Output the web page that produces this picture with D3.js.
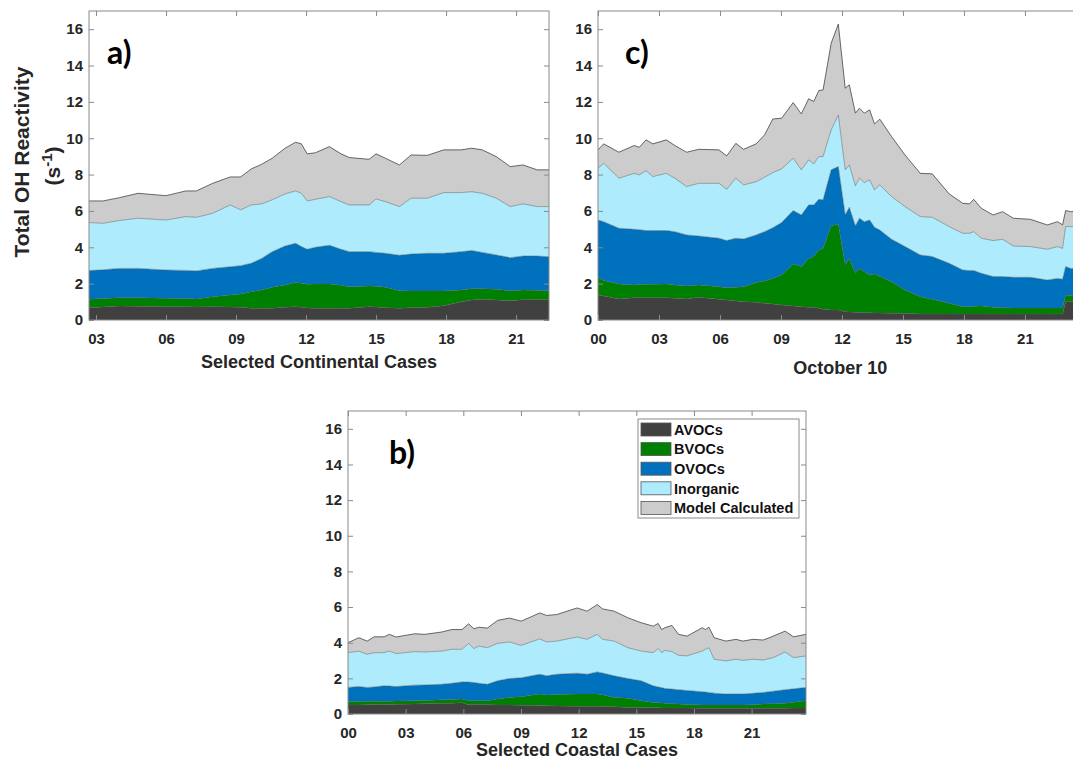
<!DOCTYPE html>
<html>
<head>
<meta charset="utf-8">
<script src="https://cdn.jsdelivr.net/npm/d3@7"></script>
<style>
  body { margin: 0; background: #fff; }
  text { font-family: "Liberation Sans", Arial, sans-serif; }
</style>
</head>
<body>
<script>
const keys = ["AVOCs", "BVOCs", "OVOCs", "Inorganic", "Model Calculated"];
const colors = ["#404040", "#008000", "#0072BD", "#AEEBFC", "#CCCCCC"];
const yTicks = [0, 2, 4, 6, 8, 10, 12, 14, 16];

// a) selected continental cases
const hoursA = [2.7, 3.3, 4.0, 4.8, 6.0, 6.85, 7.3, 8.0, 8.75, 9.2, 9.65, 10.1, 10.55, 11.1, 11.55, 11.8, 12.05, 12.4, 13.0, 13.5, 13.85, 14.7, 15.0, 15.4, 16.0, 16.5, 17.2, 17.9, 18.65, 19.1, 19.55, 20.15, 20.75, 21.3, 21.9, 22.41];
const avocA = [.68, .72, .77, .76, .73, .73, .72, .73, .72, .70, .64, .64, .65, .70, .73, .70, .66, .64, .65, .64, .65, .73, .72, .68, .64, .67, .70, .79, 1.00, 1.10, 1.14, 1.10, 1.06, 1.12, 1.12, 1.12];
const bvocA = [.46, .46, .46, .46, .46, .45, .44, .55, .66, .73, .92, 1.01, 1.15, 1.23, 1.33, 1.32, 1.30, 1.34, 1.33, 1.27, 1.18, 1.14, 1.13, 1.12, .97, .93, .90, .81, .65, .62, .58, .59, .55, .53, .51, .49];
const ovocA = [1.58, 1.58, 1.61, 1.62, 1.56, 1.55, 1.54, 1.56, 1.55, 1.56, 1.56, 1.74, 1.96, 2.14, 2.16, 2.02, 1.93, 2.02, 2.13, 1.98, 1.93, 1.89, 1.87, 1.87, 1.95, 2.03, 2.07, 2.07, 2.11, 2.10, 2.00, 1.89, 1.82, 1.87, 1.89, 1.87];
const inorgA = [2.64, 2.56, 2.63, 2.76, 2.75, 2.96, 2.95, 3.03, 3.40, 3.07, 3.21, 3.00, 2.85, 2.87, 2.88, 2.93, 2.66, 2.64, 2.68, 2.62, 2.57, 2.57, 2.94, 2.84, 2.68, 3.07, 3.03, 3.34, 3.25, 3.24, 3.25, 3.12, 2.81, 2.87, 2.72, 2.76];
const modelA = [1.19, 1.23, 1.26, 1.37, 1.34, 1.41, 1.45, 1.65, 1.54, 1.81, 1.98, 2.18, 2.29, 2.51, 2.68, 2.72, 2.59, 2.56, 2.75, 2.63, 2.61, 2.51, 2.48, 2.39, 2.29, 2.38, 2.36, 2.35, 2.35, 2.39, 2.39, 2.29, 2.20, 2.14, 2.02, 2.02];

// c) October 10
const hoursC = [0, 0.28, 1.03, 1.78, 2.03, 2.36, 2.7, 3.36, 3.78, 4.36, 4.95, 5.95, 6.33, 6.78, 7.16, 7.78, 8.19, 8.6, 9.03, 9.6, 10.0, 10.36, 10.61, 10.86, 11.07, 11.47, 11.82, 12.16, 12.36, 12.66, 12.86, 13.1, 13.36, 13.6, 13.86, 14.44, 15.1, 15.85, 16.44, 17.27, 17.94, 18.27, 18.48, 18.85, 19.43, 19.9, 20.43, 21.27, 22.1, 22.6, 22.85, 23.0, 23.25, 23.83];
const avocC = [1.38, 1.32, 1.16, 1.23, 1.23, 1.23, 1.23, 1.23, 1.19, 1.16, 1.25, 1.14, 1.10, 1.05, 1.01, 0.97, 0.92, 0.88, 0.83, 0.77, 0.73, 0.70, 0.70, 0.64, 0.59, 0.55, 0.55, 0.46, 0.44, 0.42, 0.41, 0.40, 0.40, 0.39, 0.39, 0.37, 0.37, 0.33, 0.33, 0.33, 0.33, 0.33, 0.33, 0.33, 0.33, 0.33, 0.33, 0.33, 0.33, 0.33, 0.33, 1.01, 1.01, 1.00];
const bvocC = [0.97, 0.85, 0.82, 0.70, 0.72, 0.73, 0.74, 0.75, 0.74, 0.71, 0.68, 0.69, 0.68, 0.75, 0.82, 1.09, 1.23, 1.40, 1.65, 2.31, 2.21, 2.69, 2.79, 3.21, 3.35, 4.64, 4.72, 2.57, 2.95, 2.15, 2.43, 2.26, 2.08, 2.14, 2.00, 1.74, 1.28, 0.95, 0.81, 0.59, 0.40, 0.40, 0.42, 0.44, 0.37, 0.35, 0.33, 0.33, 0.33, 0.33, 0.33, 0.37, 0.33, 0.34];
const ovocC = [3.15, 3.24, 3.07, 3.06, 3.02, 2.96, 2.95, 2.94, 2.93, 2.81, 2.69, 2.67, 2.59, 2.70, 2.63, 2.62, 2.71, 2.80, 2.88, 2.94, 2.84, 2.94, 2.84, 2.79, 2.67, 3.07, 3.17, 2.75, 2.81, 2.60, 2.76, 2.75, 3.02, 2.57, 2.56, 2.33, 2.39, 2.30, 2.35, 2.20, 2.02, 1.99, 1.97, 1.80, 1.69, 1.71, 1.69, 1.69, 1.54, 1.63, 1.58, 1.56, 1.50, 1.46];
const inorgC = [2.85, 3.21, 2.75, 3.08, 3.01, 3.30, 2.97, 3.15, 2.94, 2.66, 2.90, 3.02, 2.82, 3.30, 2.97, 2.93, 2.99, 3.03, 2.95, 2.88, 2.48, 2.48, 2.26, 2.35, 2.38, 2.20, 2.84, 2.48, 2.33, 2.21, 2.20, 2.15, 2.21, 2.06, 2.48, 2.35, 2.20, 2.11, 2.16, 2.02, 2.02, 2.05, 2.14, 1.93, 1.98, 2.05, 1.72, 1.69, 1.69, 1.75, 1.70, 2.20, 2.30, 2.30];
const modelC = [1.01, 1.07, 1.43, 1.53, 1.52, 1.69, 1.80, 1.84, 1.80, 1.89, 1.87, 1.84, 1.84, 1.92, 1.96, 2.08, 2.33, 2.95, 2.79, 3.06, 3.08, 3.36, 3.43, 3.63, 3.67, 4.77, 5.00, 4.49, 4.41, 4.00, 3.85, 3.82, 3.85, 3.63, 3.62, 3.30, 2.84, 2.38, 2.39, 1.80, 1.65, 1.62, 1.78, 1.65, 1.41, 1.52, 1.53, 1.50, 1.34, 1.37, 1.29, 0.88, 0.82, 0.90];

// b) selected coastal cases
const hoursB = [0, 0.56, 1.0, 1.36, 1.88, 2.15, 2.5, 3.47, 4.0, 4.88, 5.4, 5.93, 6.28, 6.55, 6.81, 7.25, 7.78, 8.4, 9.01, 9.98, 10.33, 10.86, 11.92, 12.44, 12.97, 13.24, 13.85, 14.56, 15.26, 15.88, 16.14, 16.32, 16.49, 16.85, 17.2, 17.64, 18.43, 18.6, 18.78, 19.05, 19.66, 20.19, 20.54, 21.07, 21.6, 22.13, 22.74, 23.18, 23.83];
const avocB = [.50, .51, .52, .53, .54, .54, .55, .56, .57, .60, .61, .63, .52, .52, .52, .52, .51, .50, .49, .47, .46, .45, .43, .43, .43, .42, .40, .37, .36, .35, .35, .34, .34, .34, .33, .33, .32, .32, .32, .32, .32, .32, .32, .32, .32, .32, .32, .33, .33];
const bvocB = [.19, .19, .19, .19, .18, .18, .18, .18, .19, .20, .21, .21, .22, .22, .22, .22, .33, .43, .48, .65, .60, .65, .69, .69, .69, .66, .53, .52, .38, .30, .28, .28, .26, .24, .23, .21, .18, .18, .18, .18, .18, .18, .18, .20, .24, .26, .29, .33, .41];
const ovocB = [.80, .84, .78, .80, .86, .85, .81, .88, .87, .87, .90, .96, 1.05, 1.03, .98, .93, 1.02, 1.06, 1.06, 1.11, 1.08, 1.13, 1.17, 1.11, 1.24, 1.22, 1.21, 1.10, 1.12, .93, .89, .86, .83, .82, .80, .78, .75, .73, .70, .67, .62, .62, .62, .64, .65, .70, .75, .75, .75];
const inorgB = [1.95, 1.99, 1.86, 1.92, 1.86, 1.96, 1.85, 1.88, 1.85, 1.86, 1.91, 1.83, 2.17, 1.90, 2.09, 2.05, 2.10, 2.05, 1.82, 1.99, 1.90, 1.86, 2.03, 1.96, 2.11, 1.89, 1.95, 1.73, 1.67, 1.86, 2.15, 1.96, 2.14, 2.10, 1.93, 1.94, 2.28, 2.40, 2.52, 1.90, 1.86, 1.95, 1.89, 1.91, 1.82, 1.88, 2.12, 1.75, 1.77];
const modelB = [.56, .75, .74, .89, .89, .94, .93, 1.00, .99, 1.07, 1.11, 1.11, 1.10, 1.11, 1.06, 1.10, 1.29, 1.34, 1.36, 1.45, 1.49, 1.49, 1.63, 1.58, 1.67, 1.71, 1.68, 1.68, 1.59, 1.49, 1.41, 1.30, 1.27, 1.47, 1.18, 1.11, 1.31, 1.11, 1.15, 1.21, 1.11, 1.12, 1.08, 1.12, 1.12, 1.21, 1.17, 1.17, 1.21];

const svg = d3.select("body").append("svg").attr("width", 1073).attr("height", 762);
svg.append("rect").attr("width", "100%").attr("height", "100%").attr("fill", "#fff");

const axisColor = "#8a8a8a";
const labelColor = "#262626";

function styleAxis(sel) {
    sel.select(".domain").remove();
    sel.selectAll(".tick line").attr("stroke", axisColor);
    sel.selectAll(".tick text")
        .attr("fill", labelColor)
        .style("font-size", "15px")
        .style("font-weight", "bold");
}

function drawPanel(p) {
    const x = d3.scaleLinear().domain(p.domain).range([p.left, p.right]);
    const y = d3.scaleLinear().domain([0, 17]).range([p.bottom, p.top]);

    const rows = p.hours.map(function (h, i) {
        const row = {hour: h};
        keys.forEach(function (k, j) { row[k] = p.series[j][i]; });
        return row;
    });
    const stacked = d3.stack().keys(keys)(rows);

    const g = svg.append("g");
    const clipId = "clip-" + p.tag;
    g.append("clipPath").attr("id", clipId)
        .append("rect")
        .attr("x", p.left).attr("y", p.top)
        .attr("width", p.right - p.left).attr("height", p.bottom - p.top);

    const plot = g.append("g").attr("clip-path", "url(#" + clipId + ")");

    const area = d3.area()
        .x(d => x(d.data.hour))
        .y0(d => y(d[0]))
        .y1(d => y(d[1]));
    const edge = d3.line()
        .x(d => x(d.data.hour))
        .y(d => y(d[1]));

    plot.selectAll("path.band").data(stacked).join("path")
        .attr("class", "band")
        .attr("d", area)
        .attr("fill", (d, i) => colors[i]);

    plot.selectAll("path.edge").data(stacked).join("path")
        .attr("class", "edge")
        .attr("d", edge)
        .attr("fill", "none")
        .attr("stroke", (d, i) => i === 4 ? "#333" : "#555")
        .attr("stroke-opacity", (d, i) => i === 4 ? 0.9 : 0.6)
        .attr("stroke-width", 0.8);

    // axes, ticks inside on all four sides
    g.append("g")
        .attr("transform", "translate(0," + p.bottom + ")")
        .call(d3.axisBottom(x).tickValues(p.xTicks).tickFormat(d3.format("02d"))
            .tickSizeInner(-5).tickSizeOuter(0).tickPadding(13))
        .call(styleAxis);
    g.append("g")
        .attr("transform", "translate(0," + p.top + ")")
        .call(d3.axisTop(x).tickValues(p.xTicks).tickFormat("")
            .tickSizeInner(-5).tickSizeOuter(0))
        .call(styleAxis);
    g.append("g")
        .attr("transform", "translate(" + p.left + ",0)")
        .call(d3.axisLeft(y).tickValues(yTicks)
            .tickSizeInner(-5).tickSizeOuter(0).tickPadding(6))
        .call(styleAxis);
    g.append("g")
        .attr("transform", "translate(" + p.right + ",0)")
        .call(d3.axisRight(y).tickValues(yTicks).tickFormat("")
            .tickSizeInner(-5).tickSizeOuter(0))
        .call(styleAxis);

    g.append("rect")
        .attr("x", p.left).attr("y", p.top)
        .attr("width", p.right - p.left).attr("height", p.bottom - p.top)
        .attr("fill", "none")
        .attr("stroke", axisColor)
        .attr("stroke-width", 1);

    g.append("text")
        .attr("x", (p.left + p.right) / 2)
        .attr("y", p.titleY)
        .attr("text-anchor", "middle")
        .attr("fill", labelColor)
        .style("font-size", "18px")
        .style("font-weight", "bold")
        .text(p.title);

    g.append("text")
        .attr("x", p.left + p.tagDx)
        .attr("y", p.top + 53)
        .attr("fill", "#000")
        .style("font-family", "Lato, 'Open Sans', sans-serif")
        .style("font-size", "32px")
        .style("font-weight", "bold")
        .text(p.tag + ")");

    return {x: x, y: y, g: g};
}

drawPanel({
    tag: "a", left: 89, right: 549, top: 11, bottom: 320, domain: [2.7, 22.41],
    xTicks: [3, 6, 9, 12, 15, 18, 21], hours: hoursA,
    series: [avocA, bvocA, ovocA, inorgA, modelA],
    title: "Selected Continental Cases", titleY: 368, tagDx: 18
});

drawPanel({
    tag: "c", left: 598, right: 1082.5, top: 11, bottom: 320, domain: [0, 23.83],
    xTicks: [0, 3, 6, 9, 12, 15, 18, 21], hours: hoursC,
    series: [avocC, bvocC, ovocC, inorgC, modelC],
    title: "October 10", titleY: 374, tagDx: 27
});

drawPanel({
    tag: "b", left: 348, right: 806, top: 411, bottom: 714, domain: [0, 23.83],
    xTicks: [0, 3, 6, 9, 12, 15, 18, 21], hours: hoursB,
    series: [avocB, bvocB, ovocB, inorgB, modelB],
    title: "Selected Coastal Cases", titleY: 756, tagDx: 41
});

// y axis title (panel a)
svg.append("text")
    .attr("transform", "translate(22,162) rotate(-90)")
    .attr("text-anchor", "middle")
    .attr("dy", "0.35em")
    .attr("fill", labelColor)
    .style("font-size", "21px")
    .style("font-weight", "bold")
    .text("Total OH Reactivity");

const unit = svg.append("text")
    .attr("transform", "translate(53,166) rotate(-90)")
    .attr("text-anchor", "middle")
    .attr("dy", "0.35em")
    .attr("fill", labelColor)
    .style("font-size", "21px")
    .style("font-weight", "bold");
unit.append("tspan").text("(s");
unit.append("tspan").attr("baseline-shift", "super").style("font-size", "15px").text("-1");
unit.append("tspan").text(")");

// legend in panel b
const legend = svg.append("g").attr("transform", "translate(638,419)");
legend.append("rect")
    .attr("width", 161).attr("height", 99)
    .attr("fill", "#fff")
    .attr("stroke", "#8a8a8a")
    .attr("stroke-width", 1);

const items = legend.selectAll("g.item").data(keys).join("g")
    .attr("class", "item")
    .attr("transform", (d, i) => "translate(3," + (4 + i * 19.6) + ")");
items.append("rect")
    .attr("width", 30).attr("height", 13)
    .attr("fill", (d, i) => colors[i])
    .attr("stroke", "#555")
    .attr("stroke-width", 0.8);
items.append("text")
    .attr("x", 33).attr("y", 6.5)
    .attr("dy", "0.36em")
    .attr("fill", "#111")
    .style("font-size", "14.5px")
    .style("font-weight", "bold")
    .text(d => d);
</script>
</body>
</html>
